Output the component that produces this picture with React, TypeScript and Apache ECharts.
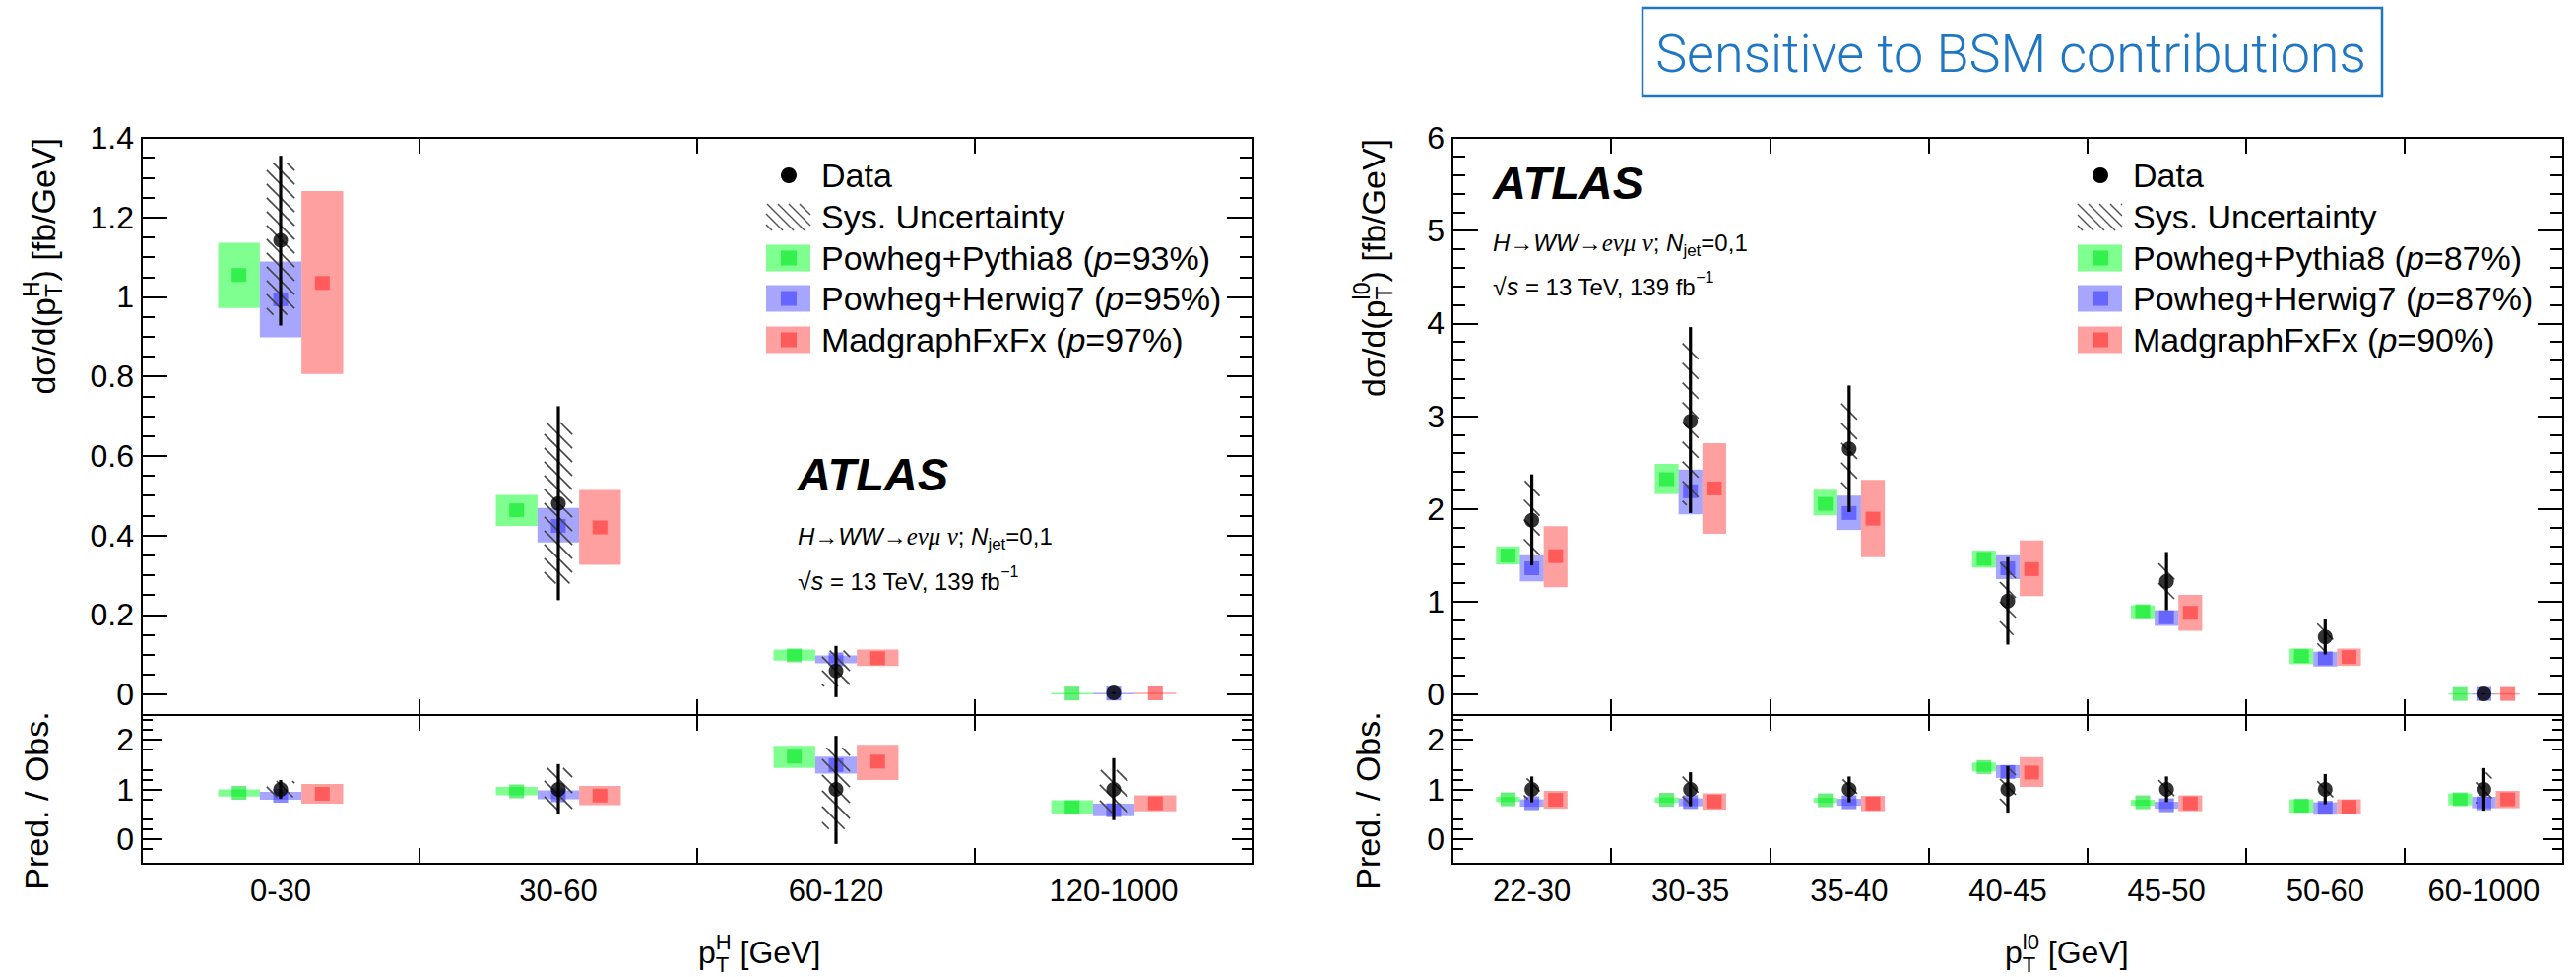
import React, { useEffect, useRef } from 'react';
import * as echarts from 'echarts';

// ---------- bins ----------
const higgsBins = ['0-30', '30-60', '60-120', '120-1000'];
const leptonBins = ['22-30', '30-35', '35-40', '40-45', '45-50', '50-60', '60-1000'];

const modelNames = ['Powheg+Pythia8', 'Powheg+Herwig7', 'MadgraphFxFx'];
const higgsPValues = ['93%', '95%', '97%'];
const leptonPValues = ['87%', '87%', '90%'];

// ---------- p_T^H cross section [fb/GeV] ----------
const hData = [1.142, 0.48, 0.059, 0.0035];
const hStatLo = [0.928, 0.237, -0.007, 0.001];
const hStatHi = [1.355, 0.725, 0.122, 0.006];
const hSysLo = [0.955, 0.279, 0.02, null];
const hSysHi = [1.337, 0.684, 0.11, null];
const hPy = [1.055, 0.463, 0.098, 0.0022];
const hPyLo = [0.972, 0.424, 0.085, 0.0018];
const hPyHi = [1.136, 0.502, 0.113, 0.0026];
const hHw = [0.994, 0.424, 0.088, 0.002];
const hHwLo = [0.898, 0.382, 0.078, 0.0016];
const hHwHi = [1.089, 0.469, 0.098, 0.0024];
const hMg = [1.035, 0.42, 0.091, 0.0025];
const hMgLo = [0.806, 0.326, 0.071, 0.0019];
const hMgHi = [1.266, 0.514, 0.113, 0.0031];

// ---------- p_T^H ratio Pred./Obs. ----------
const hRData = [1, 1, 1, 1];
const hRStatLo = [0.81, 0.5, -0.1, 0.38];
const hRStatHi = [1.19, 1.51, 2.08, 1.63];
const hRSysLo = [0.84, 0.58, 0.2, 0.53];
const hRSysHi = [1.17, 1.43, 1.84, 1.39];
const hRPy = [0.93, 0.96, 1.66, 0.64];
const hRPyLo = [0.855, 0.88, 1.43, 0.51];
const hRPyHi = [1.0, 1.05, 1.88, 0.78];
const hRHw = [0.87, 0.88, 1.49, 0.58];
const hRHwLo = [0.79, 0.8, 1.32, 0.46];
const hRHwHi = [0.95, 0.98, 1.66, 0.71];
const hRMg = [0.91, 0.875, 1.56, 0.72];
const hRMgLo = [0.71, 0.68, 1.19, 0.56];
const hRMgHi = [1.11, 1.07, 1.9, 0.88];

// ---------- p_T^l0 cross section [fb/GeV] ----------
const lData = [1.878, 2.944, 2.647, 1.006, 1.218, 0.618, 0.005];
const lStatLo = [1.39, 1.955, 1.966, 0.537, 0.907, 0.43, 0.001];
const lStatHi = [2.372, 3.96, 3.33, 1.479, 1.535, 0.808, 0.01];
const lSysLo = [1.49, 2.04, 2.2, 0.64, 1.03, 0.47, null];
const lSysHi = [2.3, 3.81, 3.15, 1.42, 1.45, 0.766, null];
const lPy = [1.497, 2.32, 2.054, 1.461, 0.897, 0.413, 0.004];
const lPyLo = [1.401, 2.16, 1.93, 1.366, 0.82, 0.325, 0.002];
const lPyHi = [1.595, 2.485, 2.206, 1.55, 0.96, 0.494, 0.006];
const lHw = [1.359, 2.19, 1.955, 1.359, 0.83, 0.388, 0.004];
const lHwLo = [1.218, 1.94, 1.772, 1.242, 0.738, 0.3, 0.002];
const lHwHi = [1.5, 2.425, 2.143, 1.5, 0.907, 0.459, 0.006];
const lMg = [1.49, 2.22, 1.895, 1.35, 0.879, 0.402, 0.004];
const lMgLo = [1.154, 1.73, 1.479, 1.059, 0.685, 0.307, 0.002];
const lMgHi = [1.814, 2.707, 2.312, 1.659, 1.073, 0.494, 0.006];

// ---------- p_T^l0 ratio Pred./Obs. ----------
const lRData = [1, 1, 1, 1, 1, 1, 1];
const lRStatLo = [0.74, 0.66, 0.74, 0.53, 0.745, 0.7, 0.57];
const lRStatHi = [1.26, 1.345, 1.26, 1.47, 1.26, 1.31, 1.43];
const lRSysLo = [0.8, 0.7, 0.83, 0.64, 0.85, 0.76, 0.72];
const lRSysHi = [1.22, 1.3, 1.2, 1.41, 1.19, 1.24, 1.34];
const lRPy = [0.8, 0.79, 0.78, 1.45, 0.74, 0.67, 0.8];
const lRPyLo = [0.745, 0.73, 0.73, 1.36, 0.67, 0.53, 0.68];
const lRPyHi = [0.85, 0.84, 0.83, 1.54, 0.79, 0.8, 0.92];
const lRHw = [0.72, 0.744, 0.74, 1.35, 0.68, 0.63, 0.72];
const lRHwLo = [0.65, 0.66, 0.67, 1.23, 0.61, 0.49, 0.62];
const lRHwHi = [0.8, 0.82, 0.81, 1.49, 0.75, 0.74, 0.85];
const lRMg = [0.79, 0.755, 0.716, 1.34, 0.72, 0.65, 0.8];
const lRMgLo = [0.61, 0.59, 0.56, 1.05, 0.56, 0.5, 0.62];
const lRMgHi = [0.97, 0.92, 0.87, 1.65, 0.88, 0.8, 0.97];

// ---------- axis tick labels ----------
const higgsYTicks = [0, 0.2, 0.4, 0.6, 0.8, 1, 1.2, 1.4];
const leptonYTicks = [0, 1, 2, 3, 4, 5, 6];
const ratioYTicks = [0, 1, 2];

// ---------- styling ----------
const FONT = 'Liberation Sans';
const INK = '#000';
const BOX_FILL = ['rgba(0,255,33,0.5)', 'rgba(77,77,255,0.5)', 'rgba(255,65,65,0.5)'];
const MARK_FILL = ['rgba(0,230,33,0.6)', 'rgba(60,60,255,0.6)', 'rgba(255,45,45,0.6)'];
const HATCH = '#474747';
const BSM_BLUE = '#1f77c4';

const PLOT_W = 1128;
const TOP_Y = 140;
const TOP_H = 586;
const RATIO_H = 151;
const LEFT_X = 144;
const RIGHT_X = 1475;

// ---------- text helpers ----------
type Piece = {
  t: string;
  size: number;
  dy?: number;
  italic?: boolean;
  bold?: boolean;
  weight?: number;
  family?: string;
  stack?: 'sup' | 'sub';
};

let measureCtx: CanvasRenderingContext2D | null = null;
function fontOf(p: Piece) {
  const w = p.bold ? 'bold ' : p.weight ? `${p.weight} ` : '';
  return `${p.italic ? 'italic ' : ''}${w}${p.size}px "${p.family || FONT}"`;
}
function measure(p: Piece) {
  if (!measureCtx) measureCtx = document.createElement('canvas').getContext('2d');
  measureCtx!.font = fontOf(p);
  return measureCtx!.measureText(p.t).width;
}

function layout(pieces: Piece[]) {
  const placed: { p: Piece; x: number }[] = [];
  let x = 0;
  let supW = 0;
  let supX = 0;
  pieces.forEach((p) => {
    const w = measure(p);
    if (p.stack === 'sup') {
      placed.push({ p, x });
      supW = w;
      supX = x;
    } else if (p.stack === 'sub') {
      placed.push({ p, x: supX });
      x = supX + Math.max(w, supW);
      supW = 0;
    } else {
      placed.push({ p, x });
      x += w;
    }
  });
  return { placed, width: x };
}

function textRow(pieces: Piece[], x: number, y: number, anchor: 'left' | 'right' | 'center' = 'left', fill = INK) {
  const { placed, width } = layout(pieces);
  const x0 = anchor === 'left' ? x : anchor === 'right' ? x - width : x - width / 2;
  return placed.map(({ p, x: px }) => ({
    type: 'text',
    x: x0 + px,
    y: y + (p.dy || 0),
    silent: true,
    style: {
      text: p.t,
      fontSize: p.size,
      fontFamily: p.family || FONT,
      fontStyle: p.italic ? 'italic' : 'normal',
      fontWeight: p.bold ? 'bold' : p.weight || 'normal',
      fill,
      align: 'left',
      verticalAlign: 'middle',
      textAlign: 'left',
      textVerticalAlign: 'middle',
    },
  }));
}

function verticalTitle(pieces: Piece[], x: number, y: number, anchor: 'right' | 'center') {
  return {
    type: 'group',
    x,
    y,
    rotation: Math.PI / 2,
    children: textRow(pieces, 0, 0, anchor),
  };
}

// diagonal "\\" hatch, clipped to a rectangle in pixel space
function hatchLines(x1: number, y1: number, x2: number, y2: number, step: number, width: number, color: string) {
  const out: any[] = [];
  const cMin = y1 - x2;
  const cMax = y2 - x1;
  for (let c = Math.ceil(cMin / step) * step; c <= cMax; c += step) {
    const xa = Math.max(x1, y1 - c);
    const xb = Math.min(x2, y2 - c);
    if (xb - xa > 0.8) {
      out.push({
        type: 'line',
        shape: { x1: xa, y1: xa + c, x2: xb, y2: xb + c },
        style: { stroke: color, lineWidth: width },
      });
    }
  }
  return out;
}

// ---------- axes ----------
function range(from: number, to: number, step: number, skipEvery: number) {
  const out: number[] = [];
  let k = 0;
  for (let v = from; v <= to + 1e-9; v += step, k++) {
    if (k % skipEvery !== 0) out.push(Math.round(v * 1000) / 1000);
  }
  return out;
}

const lineStyle = { color: INK, width: 2 };

function xAxes(gi: number, cats: string[], showLabels: boolean) {
  const base = {
    type: 'category',
    gridIndex: gi,
    data: cats,
    boundaryGap: true,
    axisLine: { show: true, onZero: false, lineStyle },
    axisTick: { show: true, inside: true, length: 16, interval: 0, lineStyle },
    splitLine: { show: false },
  };
  return [
    {
      ...base,
      position: 'bottom',
      axisLabel: {
        show: showLabels,
        interval: 0,
        fontSize: 31,
        fontFamily: FONT,
        color: INK,
        margin: 12,
      },
    },
    { ...base, position: 'top', axisLabel: { show: false } },
  ];
}

function yAxes(gi: number, min: number, max: number, majors: number[], minors: number[], majorLen: number, minorLen: number) {
  const base = {
    type: 'value',
    gridIndex: gi,
    min,
    max,
    axisLine: { show: true, onZero: false, lineStyle },
    splitLine: { show: false },
  };
  const major = (pos: string, labels: boolean) => ({
    ...base,
    position: pos,
    axisTick: { show: true, inside: true, length: majorLen, customValues: majors, lineStyle },
    axisLabel: labels
      ? { show: true, customValues: majors, fontSize: 32, fontFamily: FONT, color: INK, margin: 8 }
      : { show: false },
  });
  const minor = (pos: string) => ({
    ...base,
    position: pos,
    axisTick: { show: true, inside: true, length: minorLen, customValues: minors, lineStyle },
    axisLabel: { show: false },
  });
  return [major('left', true), minor('left'), major('right', false), minor('right')];
}

// ---------- series ----------
function modelSeries(gi: number, m: number, vals: number[], lo: number[], hi: number[]) {
  const offset = m - 1;
  return {
    type: 'custom',
    name: modelNames[m],
    xAxisIndex: gi * 2,
    yAxisIndex: gi * 4,
    z: 2,
    encode: { x: 0, y: [1, 2, 3] },
    data: vals.map((v, i) => [i, v, lo[i], hi[i]]),
    renderItem: (_p: any, api: any) => {
      const i = api.value(0);
      const c = api.coord([i, api.value(1)]);
      const bw = api.size([1, 0])[0];
      const cx = c[0] + offset * bw * 0.15;
      const yl = api.coord([i, api.value(2)])[1];
      const yh = api.coord([i, api.value(3)])[1];
      const w = bw * 0.15;
      const h = Math.max(yl - yh, 1.5);
      return {
        type: 'group',
        children: [
          { type: 'rect', shape: { x: cx - w / 2, y: (yl + yh) / 2 - h / 2, width: w, height: h }, style: { fill: BOX_FILL[m] } },
          { type: 'rect', shape: { x: cx - 7.5, y: c[1] - 7, width: 15, height: 14 }, style: { fill: MARK_FILL[m] } },
        ],
      };
    },
  };
}

function sysSeries(gi: number, lo: (number | null)[], hi: (number | null)[], step: number) {
  const rows: number[][] = [];
  lo.forEach((l, i) => {
    if (l !== null && hi[i] !== null) rows.push([i, l as number, hi[i] as number]);
  });
  return {
    type: 'custom',
    name: 'Sys. Uncertainty',
    xAxisIndex: gi * 2,
    yAxisIndex: gi * 4,
    z: 3,
    encode: { x: 0, y: [1, 2] },
    data: rows,
    renderItem: (_p: any, api: any) => {
      const i = api.value(0);
      const a = api.coord([i, api.value(1)]);
      const b = api.coord([i, api.value(2)]);
      const bw = api.size([1, 0])[0];
      const hw = bw * 0.05;
      return {
        type: 'group',
        children: hatchLines(a[0] - hw, b[1], a[0] + hw, a[1], step, 1.6, HATCH),
      };
    },
  };
}

function statSeries(gi: number, lo: number[], hi: number[]) {
  return {
    type: 'custom',
    name: 'Data uncertainty',
    xAxisIndex: gi * 2,
    yAxisIndex: gi * 4,
    z: 4,
    encode: { x: 0, y: [1, 2] },
    data: lo.map((l, i) => [i, l, hi[i]]),
    renderItem: (_p: any, api: any) => {
      const i = api.value(0);
      const a = api.coord([i, api.value(1)]);
      const b = api.coord([i, api.value(2)]);
      return {
        type: 'line',
        shape: { x1: a[0], y1: a[1], x2: b[0], y2: b[1] },
        style: { stroke: INK, lineWidth: 3.2 },
      };
    },
  };
}

function dataSeries(gi: number, vals: number[]) {
  return {
    type: 'scatter',
    name: 'Data',
    xAxisIndex: gi * 2,
    yAxisIndex: gi * 4,
    z: 5,
    symbol: 'circle',
    symbolSize: 15,
    itemStyle: { color: INK },
    data: vals.map((v, i) => [i, v]),
  };
}

function panelSeries(
  gi: number,
  data: number[],
  statLo: number[],
  statHi: number[],
  sysLo: (number | null)[],
  sysHi: (number | null)[],
  models: number[][][],
  step: number
) {
  return [
    ...models.map((m, k) => modelSeries(gi, k, m[0], m[1], m[2])),
    sysSeries(gi, sysLo, sysHi, step),
    statSeries(gi, statLo, statHi),
    dataSeries(gi, data),
  ];
}

// ---------- legend and labels ----------
function legend(boxX: number, rowY: number[], pvals: string[]) {
  const txtX = boxX + 56;
  const els: any[] = [];
  els.push({ type: 'circle', shape: { cx: boxX + 23, cy: rowY[0], r: 8 }, style: { fill: INK } });
  els.push(...textRow([{ t: 'Data', size: 34 }], txtX, rowY[0]));
  els.push(...hatchLines(boxX, rowY[1] - 13, boxX + 45, rowY[1] + 14, 11, 1.5, '#555'));
  els.push(...textRow([{ t: 'Sys. Uncertainty', size: 34 }], txtX, rowY[1]));
  for (let m = 0; m < 3; m++) {
    const y = rowY[m + 2];
    els.push({ type: 'rect', shape: { x: boxX, y: y - 13.5, width: 45, height: 27 }, style: { fill: BOX_FILL[m] } });
    els.push({ type: 'rect', shape: { x: boxX + 15, y: y - 7.5, width: 16, height: 15 }, style: { fill: MARK_FILL[m] } });
    els.push(
      ...textRow(
        [
          { t: `${modelNames[m]} (`, size: 34 },
          { t: 'p', size: 34, italic: true },
          { t: `=${pvals[m]})`, size: 34 },
        ],
        txtX,
        y
      )
    );
  }
  return els;
}

function atlasBlock(x: number, yAtlas: number, yProc: number, yEnergy: number) {
  const serif = 'Liberation Serif';
  return [
    ...textRow([{ t: 'ATLAS', size: 47, bold: true, italic: true }], x, yAtlas),
    ...textRow(
      [
        { t: 'H', size: 24, italic: true },
        { t: '\u2192', size: 24 },
        { t: 'WW', size: 24, italic: true },
        { t: '\u2192', size: 24 },
        { t: 'e\u03BD\u03BC \u03BD', size: 25, italic: true, family: serif },
        { t: '; ', size: 24 },
        { t: 'N', size: 24, italic: true },
        { t: 'jet', size: 17, dy: 8 },
        { t: '=0,1', size: 24 },
      ],
      x,
      yProc
    ),
    ...textRow(
      [
        { t: '\u221A', size: 25 },
        { t: 's', size: 25, italic: true },
        { t: ' = 13 TeV, 139 fb', size: 24 },
        { t: '\u22121', size: 16, dy: -10 },
      ],
      x,
      yEnergy
    ),
  ];
}

function yTitle(sup: string) {
  return [
    { t: 'd\u03C3/d(p', size: 34 },
    { t: sup, size: 23, dy: -12, stack: 'sup' as const },
    { t: 'T', size: 23, dy: 11, stack: 'sub' as const },
    { t: ') [fb/GeV]', size: 34 },
  ];
}

function xTitle(sup: string) {
  return [
    { t: 'p', size: 32 },
    { t: sup, size: 22, dy: -11, stack: 'sup' as const },
    { t: 'T', size: 22, dy: 12, stack: 'sub' as const },
    { t: ' [GeV]', size: 32 },
  ];
}

function buildOption() {
  const grids = [
    { left: LEFT_X, top: TOP_Y, width: PLOT_W, height: TOP_H },
    { left: LEFT_X, top: TOP_Y + TOP_H, width: PLOT_W, height: RATIO_H },
    { left: RIGHT_X, top: TOP_Y, width: PLOT_W, height: TOP_H },
    { left: RIGHT_X, top: TOP_Y + TOP_H, width: PLOT_W, height: RATIO_H },
  ].map((g) => ({ ...g, containLabel: false, outerBoundsMode: 'none' }));

  const ratioMinors = range(-0.4, 2.4, 0.2, 5).filter((v) => Math.abs(v - Math.round(v)) > 1e-6);
  const higgsMinors = range(0, 1.4, 0.05, 4);
  const leptonMinors = range(0, 6, 0.2, 5);

  const xAxis = [
    ...xAxes(0, higgsBins, false),
    ...xAxes(1, higgsBins, true),
    ...xAxes(2, leptonBins, false),
    ...xAxes(3, leptonBins, true),
  ];
  const yAxis = [
    ...yAxes(0, -0.052, 1.4, higgsYTicks, higgsMinors, 26, 13),
    ...yAxes(1, -0.5, 2.5, ratioYTicks, ratioMinors, 21, 11),
    ...yAxes(2, -0.223, 6, leptonYTicks, leptonMinors, 26, 13),
    ...yAxes(3, -0.5, 2.5, ratioYTicks, ratioMinors, 21, 11),
  ];

  const series = [
    ...panelSeries(0, hData, hStatLo, hStatHi, hSysLo, hSysHi, [
      [hPy, hPyLo, hPyHi],
      [hHw, hHwLo, hHwHi],
      [hMg, hMgLo, hMgHi],
    ], 14),
    ...panelSeries(1, hRData, hRStatLo, hRStatHi, hRSysLo, hRSysHi, [
      [hRPy, hRPyLo, hRPyHi],
      [hRHw, hRHwLo, hRHwHi],
      [hRMg, hRMgLo, hRMgHi],
    ], 16),
    ...panelSeries(2, lData, lStatLo, lStatHi, lSysLo, lSysHi, [
      [lPy, lPyLo, lPyHi],
      [lHw, lHwLo, lHwHi],
      [lMg, lMgLo, lMgHi],
    ], 20),
    ...panelSeries(3, lRData, lRStatLo, lRStatHi, lRSysLo, lRSysHi, [
      [lRPy, lRPyLo, lRPyHi],
      [lRHw, lRHwLo, lRHwHi],
      [lRMg, lRMgLo, lRMgHi],
    ], 20),
  ];

  const rows = [178, 220, 262, 303, 345];

  // banner above the right-hand plot, font sized to the box
  const bannerText = 'Sensitive to BSM contributions';
  const probe = measure({ t: bannerText, size: 54, family: 'Roboto', weight: 300 });
  const bannerSize = (54 * 722) / probe;

  const graphic = [
    // axis titles
    verticalTitle(yTitle('H'), 44, TOP_Y, 'right'),
    verticalTitle([{ t: 'Pred. / Obs.', size: 34 }], 37, 813, 'center'),
    verticalTitle(yTitle('l0'), 1395, TOP_Y + 1, 'right'),
    verticalTitle([{ t: 'Pred. / Obs.', size: 34 }], 1389, 813, 'center'),
    ...textRow(xTitle('H'), LEFT_X + PLOT_W / 2 + 1, 967),
    ...textRow(xTitle('l0'), RIGHT_X + PLOT_W / 2 - 3, 967),
    // legends
    ...legend(778, rows, higgsPValues),
    ...legend(2110, rows, leptonPValues),
    // experiment labels
    ...atlasBlock(810, 481, 544, 590),
    ...atlasBlock(1516, 185, 246, 291),
    // banner
    {
      type: 'rect',
      shape: { x: 1668, y: 8, width: 751, height: 89 },
      style: { fill: 'none', stroke: BSM_BLUE, lineWidth: 2.5 },
    },
    ...textRow([{ t: bannerText, size: bannerSize, family: 'Roboto', weight: 300 }], 2042, 54, 'center', BSM_BLUE),
  ];

  return {
    animation: false,
    backgroundColor: '#fff',
    grid: grids,
    xAxis,
    yAxis,
    series,
    graphic,
  };
}

export default function App() {
  const ref = useRef<HTMLDivElement>(null);
  useEffect(() => {
    if (!ref.current) return;
    const chart = echarts.init(ref.current, null, { renderer: 'svg' });
    chart.setOption(buildOption() as any);
    return () => chart.dispose();
  }, []);
  return (
    <div
      ref={ref}
      style={{ position: 'absolute', left: 0, top: 0, width: 2616, height: 992, background: '#fff' }}
    />
  );
}
